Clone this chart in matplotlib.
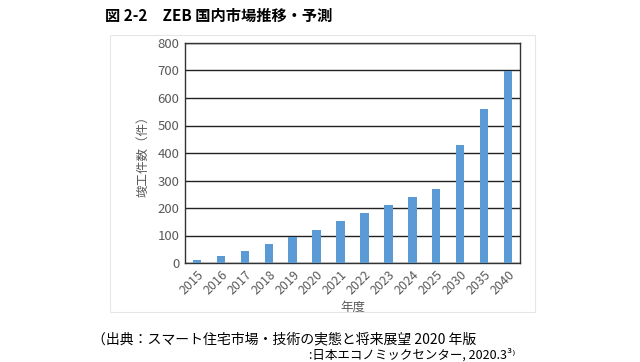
import matplotlib
matplotlib.use("Agg")
import matplotlib.pyplot as plt
from matplotlib.patches import Rectangle

plt.rcParams['font.family'] = ['Noto Sans CJK JP', 'DejaVu Sans']

years = ['2015', '2016', '2017', '2018', '2019', '2020', '2021', '2022',
         '2023', '2024', '2025', '2030', '2035', '2040']
counts = [10, 25, 45, 70, 95, 120, 152, 181, 211, 241, 270, 428, 559, 699]
yticks = [0, 100, 200, 300, 400, 500, 600, 700, 800]

fig = plt.figure(figsize=(6.4, 3.62), dpi=100)
fig.patch.set_facecolor('white')

# faint chart frame
fig.patches.append(Rectangle((110/640, 1-312/362), 425/640, 277/362,
                             transform=fig.transFigure, fill=False,
                             edgecolor='#e6e6e6', linewidth=0.8))

ax = fig.add_axes([185/640, 1-263/362, 335/640, 220/362])
x = list(range(len(years)))
ax.bar(x, counts, width=0.35, color='#5b9bd5', zorder=3)
ax.set_xlim(-0.5, len(years)-0.5)
ax.set_ylim(0, 800)
ax.set_yticks(yticks)
ax.set_yticklabels([str(v) for v in yticks], color='#595959', fontsize=9.5)
ax.set_xticks(x)
ax.set_xticklabels(years, rotation=45, ha='right', rotation_mode='anchor',
                   color='#595959', fontsize=9)
ax.tick_params(length=0, pad=4)
ax.grid(axis='y', color='#222222', linewidth=1.0, zorder=1)
for s in ax.spines.values():
    s.set_color('#333333')
    s.set_linewidth(1.0)
ax.set_ylabel('竣工件数（件）', color='#595959', fontsize=9, labelpad=6)
ax.set_xlabel('年度', color='#595959', fontsize=9, labelpad=2)

fig.text(105/640, 1-16/362, '図 2-2　ZEB 国内市場推移・予測', fontsize=11,
         fontweight='bold', va='center', ha='left')
fig.text(92/640, 1-339/362, '（出典：スマート住宅市場・技術の実態と将来展望 2020 年版',
         fontsize=10, va='center', ha='left')
fig.text(515/640, 1-355/362, ':日本エコノミックセンター, 2020.3³⁾',
         fontsize=9, va='center', ha='right')

fig.savefig('out.png', dpi=100, facecolor='white')
